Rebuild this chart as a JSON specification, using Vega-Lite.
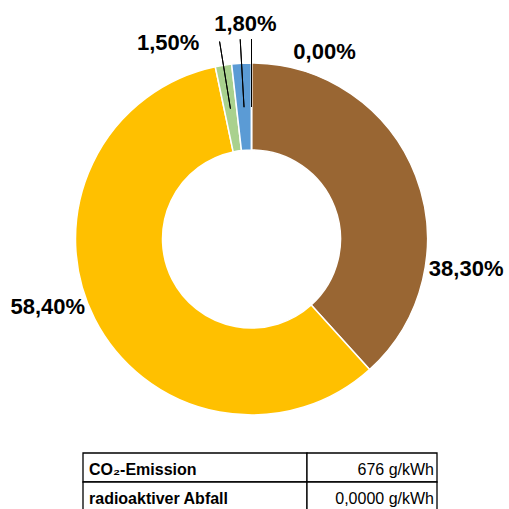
{
  "$schema": "https://vega.github.io/schema/vega-lite/v6.json",
  "padding": 0,
  "background": "white",
  "spacing": 0,
  "bounds": "flush",
  "config": {
    "view": {"stroke": null},
    "font": "Liberation Sans",
    "concat": {"spacing": 0},
    "locale": {"number": {"decimal": ",", "thousands": ".", "grouping": [3], "currency": ["", " €"]}}
  },
  "datasets": {
    "anteile": [
      {"Energieträger": "Kohle", "Anteil": 0.383, "Reihenfolge": 1},
      {"Energieträger": "Erdgas", "Anteil": 0.584, "Reihenfolge": 2},
      {"Energieträger": "Erneuerbare Energien", "Anteil": 0.015, "Reihenfolge": 3},
      {"Energieträger": "Sonstige Energieträger", "Anteil": 0.018, "Reihenfolge": 4},
      {"Energieträger": "Kernkraft", "Anteil": 0.0, "Reihenfolge": 5}
    ],
    "kennzahlen": [
      {"Kennzahl": "CO₂-Emission", "Wert": "676 g/kWh"},
      {"Kennzahl": "radioaktiver Abfall", "Wert": "0,0000 g/kWh"}
    ]
  },
  "vconcat": [
    {
      "width": 509,
      "height": 453,
      "data": {"name": "anteile"},
      "encoding": {
        "theta": {"field": "Anteil", "type": "quantitative", "stack": true},
        "order": {"field": "Reihenfolge", "type": "quantitative"}
      },
      "layer": [
        {
          "mark": {"type": "arc", "radius": 176, "radius2": 89, "stroke": "white", "strokeWidth": 1.5, "xOffset": -3, "yOffset": 12.5},
          "encoding": {
            "color": {
              "field": "Energieträger",
              "type": "nominal",
              "scale": {
                "domain": ["Kohle", "Erdgas", "Erneuerbare Energien", "Sonstige Energieträger", "Kernkraft"],
                "range": ["#996633", "#FFC000", "#A9D18E", "#5B9BD5", "#7F7F7F"]
              },
              "legend": null
            }
          }
        },
        {
          "mark": {"type": "arc", "radius": 200, "radius2": 132, "padAngle": 3.1416, "fillOpacity": 0, "stroke": "black", "strokeWidth": 1, "xOffset": -3, "yOffset": 12.5},
          "encoding": {
            "strokeOpacity": {"condition": {"test": "datum.Anteil < 0.05", "value": 1}, "value": 0}
          }
        },
        {
          "mark": {"type": "text", "radius": 215, "fontSize": 22, "fontWeight": "bold", "color": "black", "align": "center", "baseline": "middle", "dx": 11, "dy": 120},
          "encoding": {"text": {"condition": {"test": "datum['Energieträger'] === 'Kohle'", "field": "Anteil", "type": "quantitative", "format": ".2%"}, "value": ""}}
        },
        {
          "mark": {"type": "text", "radius": 177, "fontSize": 22, "fontWeight": "bold", "color": "black", "align": "center", "baseline": "middle", "dx": -49, "dy": 0},
          "encoding": {"text": {"condition": {"test": "datum['Energieträger'] === 'Erdgas'", "field": "Anteil", "type": "quantitative", "format": ".2%"}, "value": ""}}
        },
        {
          "mark": {"type": "text", "radius": 215, "fontSize": 22, "fontWeight": "bold", "color": "black", "align": "center", "baseline": "middle", "dx": -52, "dy": 29},
          "encoding": {"text": {"condition": {"test": "datum['Energieträger'] === 'Erneuerbare Energien'", "field": "Anteil", "type": "quantitative", "format": ".2%"}, "value": ""}}
        },
        {
          "mark": {"type": "text", "radius": 215, "fontSize": 22, "fontWeight": "bold", "color": "black", "align": "center", "baseline": "middle", "dx": 3, "dy": 12},
          "encoding": {"text": {"condition": {"test": "datum['Energieträger'] === 'Sonstige Energieträger'", "field": "Anteil", "type": "quantitative", "format": ".2%"}, "value": ""}}
        },
        {
          "mark": {"type": "text", "radius": 215, "fontSize": 22, "fontWeight": "bold", "color": "black", "align": "center", "baseline": "middle", "dx": 70, "dy": 40},
          "encoding": {"text": {"condition": {"test": "datum['Energieträger'] === 'Kernkraft'", "field": "Anteil", "type": "quantitative", "format": ".2%"}, "value": ""}}
        }
      ]
    },
    {
      "spacing": 0,
      "bounds": "flush",
      "hconcat": [
        {
          "width": 83,
          "height": 58,
          "data": {"name": "kennzahlen"},
          "mark": {"type": "rect", "opacity": 0},
          "encoding": {
            "y": {"field": "Kennzahl", "type": "nominal", "sort": null, "axis": null},
            "x": {"value": 0},
            "x2": {"value": "width"}
          }
        },
        {
          "width": 224,
          "height": 58,
          "data": {"name": "kennzahlen"},
          "encoding": {
            "y": {"field": "Kennzahl", "type": "nominal", "sort": null, "axis": null, "scale": {"paddingInner": 0, "paddingOuter": 0}}
          },
          "layer": [
            {
              "mark": {"type": "rect", "fill": "white", "stroke": "black", "strokeWidth": 1.3},
              "encoding": {"x": {"value": 0}, "x2": {"value": "width"}}
            },
            {
              "mark": {"type": "text", "align": "left", "baseline": "alphabetic", "dx": 6, "dy": 7.5, "fontSize": 16, "fontWeight": "bold", "color": "black"},
              "encoding": {"x": {"value": 0}, "text": {"field": "Kennzahl"}}
            }
          ]
        },
        {
          "width": 130,
          "height": 58,
          "data": {"name": "kennzahlen"},
          "encoding": {
            "y": {"field": "Kennzahl", "type": "nominal", "sort": null, "axis": null, "scale": {"paddingInner": 0, "paddingOuter": 0}}
          },
          "layer": [
            {
              "mark": {"type": "rect", "fill": "white", "stroke": "black", "strokeWidth": 1.3},
              "encoding": {"x": {"value": 0}, "x2": {"value": "width"}}
            },
            {
              "mark": {"type": "text", "align": "right", "baseline": "alphabetic", "dx": -3, "dy": 7.5, "fontSize": 16, "color": "black"},
              "encoding": {"x": {"value": "width"}, "text": {"field": "Wert"}}
            }
          ]
        }
      ]
    }
  ]
}
